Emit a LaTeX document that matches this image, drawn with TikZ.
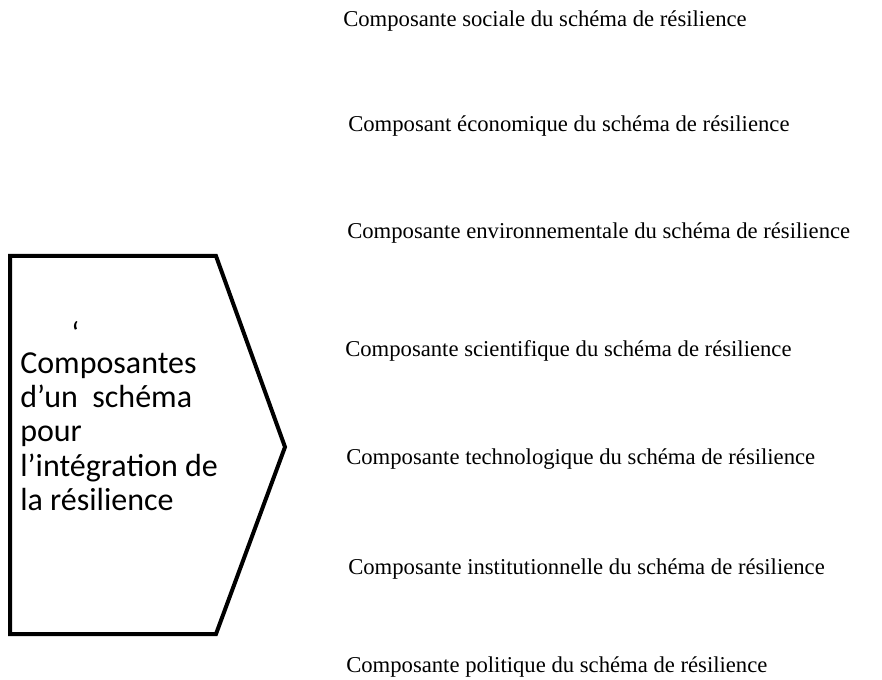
\documentclass[tikz,border=0pt]{standalone}
\usepackage{fontspec}
\setmainfont{Liberation Serif}
\newfontfamily\calib{Carlito}
\usepackage{tikz}

\begin{document}
\begin{tikzpicture}[x=0.75pt, y=-0.75pt]
		\useasboundingbox (0,0) rectangle (882,680);
		\draw[draw=black, line width=3pt, line join=miter, solid] (10,256) -- (216,256) -- (285,447) -- (216,634) -- (10,634) -- cycle;
		\node[black, anchor=north west, align=left, inner sep=0pt, font=\calib\fontsize{24}{25.7}\selectfont] (titre) at (20,321) {\hspace{1.6em}‘\\[-4pt]Composantes\\d’un~~schéma\\pour\\l’intégration de\\la résilience};
		\node[black, anchor=base west, inner sep=0pt, font=\fontsize{17}{20}\selectfont] (sociale) at (343,27) {Composante sociale du schéma de résilience};
		\node[black, anchor=base west, inner sep=0pt, font=\fontsize{17}{20}\selectfont] (economique) at (348,132) {Composant économique du schéma de résilience};
		\node[black, anchor=base west, inner sep=0pt, font=\fontsize{17}{20}\selectfont] (environnement) at (347,239) {Composante environnementale du schéma de résilience};
		\node[black, anchor=base west, inner sep=0pt, font=\fontsize{17}{20}\selectfont] (scientifique) at (345,357) {Composante scientifique du schéma de résilience};
		\node[black, anchor=base west, inner sep=0pt, font=\fontsize{17}{20}\selectfont] (technologique) at (346,465) {Composante technologique du schéma de résilience};
		\node[black, anchor=base west, inner sep=0pt, font=\fontsize{17}{20}\selectfont] (institution) at (348,575) {Composante institutionnelle du schéma de résilience};
		\node[black, anchor=base west, inner sep=0pt, font=\fontsize{17}{20}\selectfont] (politique) at (346,672) {Composante politique du schéma de résilience};
	\end{tikzpicture}
\end{document}
